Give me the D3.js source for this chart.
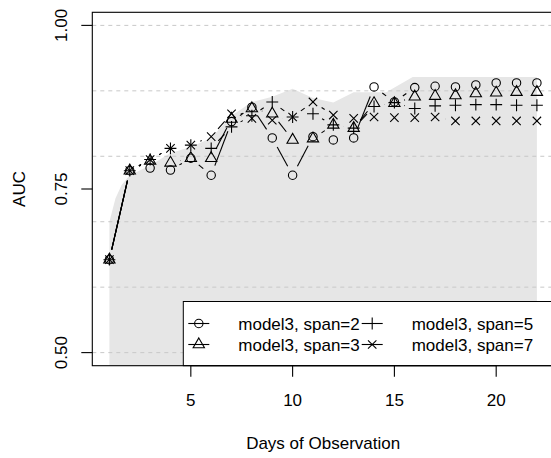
<!DOCTYPE html>
<html>
<head>
<meta charset="utf-8">
<script src="https://cdn.jsdelivr.net/npm/d3@7"></script>
<style>
  html, body { margin: 0; padding: 0; background: #fff; }
  svg { display: block; }
  text { font-family: "Liberation Sans", Arial, Helvetica, sans-serif; fill: #000; }
</style>
</head>
<body>
<svg id="chart" width="551" height="458"></svg>
<script>
// Days of observation
const days = [1, 2, 3, 4, 5, 6, 7, 8, 9, 10, 11, 12, 13, 14, 15, 16, 17, 18, 19, 20, 21, 22];

// AUC per smoothing span
const span2 = [0.642, 0.778, 0.782, 0.779, 0.797, 0.771, 0.853, 0.875, 0.828, 0.771, 0.830, 0.825, 0.828, 0.906, 0.883, 0.905, 0.907, 0.906, 0.909, 0.912, 0.912, 0.912];
const span3 = [0.642, 0.778, 0.793, 0.790, 0.797, 0.797, 0.857, 0.873, 0.865, 0.825, 0.827, 0.848, 0.843, 0.881, 0.881, 0.891, 0.892, 0.893, 0.896, 0.897, 0.898, 0.898];
const span5 = [0.642, 0.778, 0.795, 0.812, 0.817, 0.812, 0.845, 0.862, 0.883, 0.860, 0.865, 0.848, 0.843, 0.876, 0.882, 0.873, 0.877, 0.878, 0.879, 0.879, 0.878, 0.878];
const span7 = [0.642, 0.778, 0.795, 0.812, 0.817, 0.830, 0.865, 0.858, 0.855, 0.860, 0.883, 0.863, 0.858, 0.860, 0.859, 0.859, 0.860, 0.854, 0.854, 0.854, 0.854, 0.854];

// Upper envelope of the shaded reference band
const bandDays = [1, 1.3, 1.6, 2, 3, 4, 5, 6, 7, 8, 9, 10, 11, 12, 13, 14.6, 15.9, 22];
const bandTop  = [0.700, 0.736, 0.756, 0.771, 0.786, 0.805, 0.814, 0.828, 0.862, 0.883, 0.891, 0.903, 0.889, 0.882, 0.898, 0.898, 0.921, 0.921];

const seriesNames = ["model3, span=2", "model3, span=3", "model3, span=5", "model3, span=7"];
const seriesShapes = ["circle", "triangle", "plus", "cross"];

const xTicks = [5, 10, 15, 20];
const yTicks = [0.50, 0.75, 1.00];
const yGrid = [0.5, 0.6, 0.7, 0.8, 0.9, 1.0];

const svg = d3.select("#chart");

const plot = { left: 92.3, top: 12.3, right: 554, bottom: 365.7 };

const x = d3.scaleLinear().domain([0.16, 22.84]).range([plot.left, plot.right]);
const y = d3.scaleLinear().domain([0.48, 1.02]).range([plot.bottom, plot.top]);

svg.append("defs").append("clipPath").attr("id", "plotclip")
  .append("rect")
  .attr("x", plot.left).attr("y", plot.top)
  .attr("width", plot.right - plot.left).attr("height", plot.bottom - plot.top);

const inner = svg.append("g").attr("clip-path", "url(#plotclip)");

// shaded band
const band = bandDays.map((d, i) => ({ d, v: bandTop[i] }));
inner.append("path")
  .datum(band)
  .attr("fill", "#e6e6e6")
  .attr("stroke", "none")
  .attr("d", d3.area().x(p => x(p.d)).y0(y(0.3)).y1(p => y(p.v)));

// horizontal reference lines
inner.selectAll("line.grid")
  .data(yGrid)
  .join("line")
  .attr("class", "grid")
  .attr("x1", plot.left).attr("x2", plot.right)
  .attr("y1", v => y(v)).attr("y2", v => y(v))
  .attr("stroke", "#c8c8c8")
  .attr("stroke-width", 1)
  .attr("stroke-dasharray", "4,4");

// marker shapes
const R0 = 4.2;
function markerPath(shape) {
  const p = d3.path();
  if (shape === "circle") {
    p.moveTo(R0, 0); p.arc(0, 0, R0, 0, 2 * Math.PI);
  } else if (shape === "triangle") {
    const r = 1.5551 * R0, yc = 0.7775 * R0, xc = 1.3468 * R0;
    p.moveTo(0, -r); p.lineTo(xc, yc); p.lineTo(-xc, yc); p.closePath();
  } else if (shape === "plus") {
    const h = Math.SQRT2 * R0;
    p.moveTo(-h, 0); p.lineTo(h, 0); p.moveTo(0, -h); p.lineTo(0, h);
  } else {
    const h = R0;
    p.moveTo(-h, -h); p.lineTo(h, h); p.moveTo(-h, h); p.lineTo(h, -h);
  }
  return p.toString();
}

// point-and-line series with gaps around each point
const GAP = 10.3;
const allSeries = [span2, span3, span5, span7];
allSeries.forEach((vals, si) => {
  const g = inner.append("g");
  const pts = days.map((d, i) => [x(d), y(vals[i])]);
  const segs = [];
  for (let i = 0; i < pts.length - 1; i++) {
    const [x0, y0] = pts[i], [x1, y1] = pts[i + 1];
    const dx = x1 - x0, dy = y1 - y0, len = Math.hypot(dx, dy);
    if (len > 2 * GAP) {
      const ux = dx / len, uy = dy / len;
      segs.push([x0 + ux * GAP, y0 + uy * GAP, x1 - ux * GAP, y1 - uy * GAP]);
    }
  }
  g.selectAll("line").data(segs).join("line")
    .attr("x1", s => s[0]).attr("y1", s => s[1])
    .attr("x2", s => s[2]).attr("y2", s => s[3])
    .attr("stroke", "#000").attr("stroke-width", 1.1);
  g.selectAll("path").data(pts).join("path")
    .attr("transform", p => `translate(${p[0]},${p[1]})`)
    .attr("d", markerPath(seriesShapes[si]))
    .attr("fill", "none").attr("stroke", "#000").attr("stroke-width", 1.1);
});

// legend (bottom right)
const leg = svg.append("g");
const legBox = { left: 183.3, top: 301.5 };
leg.append("rect")
  .attr("x", legBox.left).attr("y", legBox.top)
  .attr("width", plot.right - legBox.left).attr("height", plot.bottom - legBox.top)
  .attr("fill", "#fff").attr("stroke", "#000").attr("stroke-width", 1);

const legCols = [188.3, 361.7];
const legRows = [323.5, 344.5];
seriesNames.forEach((name, i) => {
  const col = Math.floor(i / 2), row = i % 2;
  const lx = legCols[col], ly = legRows[row];
  leg.append("line")
    .attr("x1", lx).attr("x2", lx + 21).attr("y1", ly).attr("y2", ly)
    .attr("stroke", "#000").attr("stroke-width", 1.1);
  leg.append("path")
    .attr("transform", `translate(${lx + 10.5},${ly})`)
    .attr("d", markerPath(seriesShapes[i]))
    .attr("fill", "none").attr("stroke", "#000").attr("stroke-width", 1.1);
  leg.append("text")
    .attr("x", lx + 50).attr("y", ly + 6)
    .attr("font-size", 17)
    .text(name);
});

// frame
svg.append("rect")
  .attr("x", plot.left).attr("y", plot.top)
  .attr("width", plot.right - plot.left).attr("height", plot.bottom - plot.top)
  .attr("fill", "none").attr("stroke", "#000").attr("stroke-width", 1.1);

// x axis
const xAxis = svg.append("g");
xAxis.append("line")
  .attr("x1", x(xTicks[0])).attr("x2", x(xTicks[xTicks.length - 1]))
  .attr("y1", plot.bottom).attr("y2", plot.bottom)
  .attr("stroke", "#000");
xAxis.selectAll("line.tick").data(xTicks).join("line")
  .attr("class", "tick")
  .attr("x1", d => x(d)).attr("x2", d => x(d))
  .attr("y1", plot.bottom).attr("y2", plot.bottom + 11)
  .attr("stroke", "#000").attr("stroke-width", 1.1);
xAxis.selectAll("text").data(xTicks).join("text")
  .attr("x", d => x(d)).attr("y", 405.7)
  .attr("text-anchor", "middle").attr("font-size", 17)
  .text(d => d);

// y axis
const yAxis = svg.append("g");
yAxis.selectAll("line.tick").data(yTicks).join("line")
  .attr("class", "tick")
  .attr("x1", plot.left - 11).attr("x2", plot.left)
  .attr("y1", d => y(d)).attr("y2", d => y(d))
  .attr("stroke", "#000").attr("stroke-width", 1.1);
yAxis.selectAll("text").data(yTicks).join("text")
  .attr("transform", d => `translate(66.7,${y(d)}) rotate(-90)`)
  .attr("text-anchor", "middle").attr("font-size", 17)
  .text(d => d3.format(".2f")(d));

// axis titles, centred on the plotting region
svg.append("text")
  .attr("x", (plot.left + plot.right) / 2).attr("y", 449)
  .attr("text-anchor", "middle").attr("font-size", 17)
  .text("Days of Observation");
svg.append("text")
  .attr("transform", `translate(25,${(plot.top + plot.bottom) / 2}) rotate(-90)`)
  .attr("text-anchor", "middle").attr("font-size", 17)
  .text("AUC");
</script>
</body>
</html>
